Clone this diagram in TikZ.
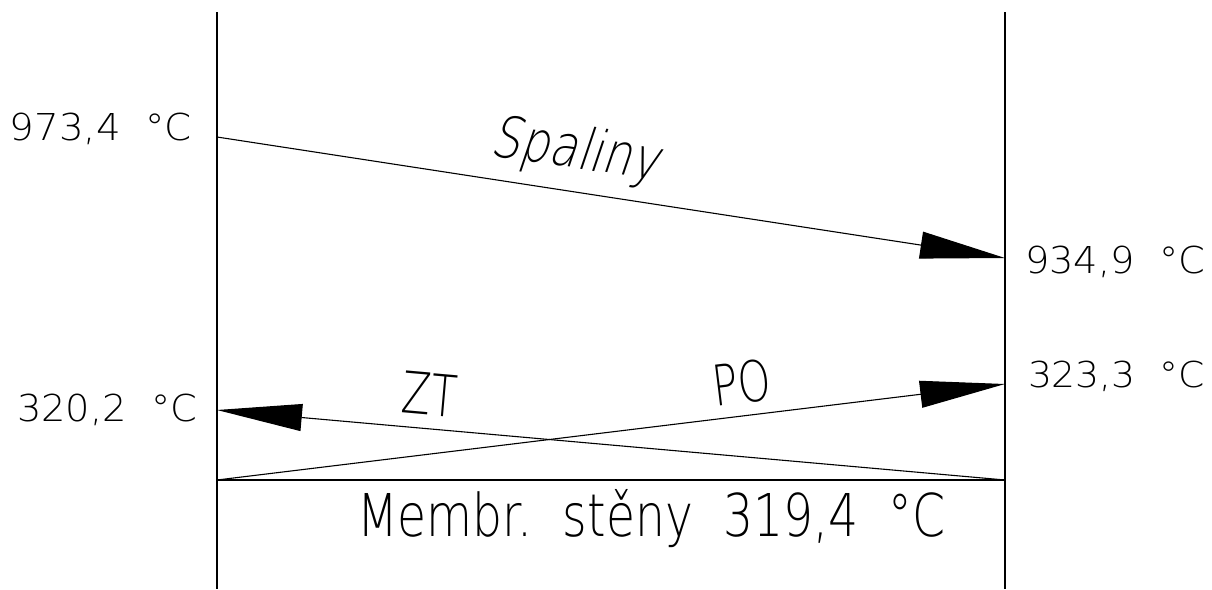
\documentclass[tikz,border=0pt]{standalone}
\usepackage{fontspec}
\usepackage{graphicx}
\setmainfont{DejaVu Sans ExtraLight}
\newfontfamily\cadit[FakeSlant=0.22]{DejaVu Sans ExtraLight}
\usetikzlibrary{arrows.meta}
\newcommand{\fitto}[3]{\resizebox{#1}{#2}{\vphantom{M}\smash{#3}}}
\tikzset{
  wall/.style={line width=1.8pt},
  flow/.style={line width=1.1pt, -{Triangle[length=85pt,width=27pt]}},
  lbl/.style={inner sep=0pt, outer sep=0pt},
}
\begin{document}
\begin{tikzpicture}[x=1pt,y=-1pt]
\useasboundingbox (0,0) rectangle (1212,589);
% coordinates
\coordinate (LT) at (217,12);
\coordinate (LB) at (217,589);
\coordinate (RT) at (1005,12);
\coordinate (RB) at (1005,589);
\coordinate (LW) at (217,480);
\coordinate (RW) at (1005,480);
\coordinate (SpIn) at (217,137);
\coordinate (SpOut) at (1005,258);
\coordinate (ZTout) at (217,410);
\coordinate (POout) at (1005,384);
% walls
\draw[wall] (LT) -- (LB);
\draw[wall] (RT) -- (RB);
\draw[wall] (LW) -- (RW);
% flows
\draw[flow] (SpIn) -- (SpOut);
\draw[flow] (RW) -- (ZTout);
\draw[flow] (LW) -- (POout);
% labels
\node[lbl, anchor=base west] (t973) at (10,140) {\fitto{182pt}{27pt}{973,4\ \ °C}};
\node[lbl, anchor=base west] (t934) at (1025,273) {\fitto{180pt}{27pt}{934,9\ \ °C}};
\node[lbl, anchor=base west] (t323) at (1028,387) {\fitto{177pt}{26pt}{323,3\ \ °C}};
\node[lbl, anchor=base west] (t320) at (17,421) {\fitto{180pt}{27pt}{320,2\ \ °C}};
\node[lbl, anchor=base west] (tmem) at (357,536) {\fitto{588pt}{43pt}{Membr.\ \ stěny\ \ 319,4\ \ °C}};
\node[lbl, rotate=-8.7] (tsp) at (576,147) {\fitto{168pt}{42pt}{\cadit Spaliny}};
\node[lbl, rotate=-5] (tzt) at (430,394) {\fitto{55pt}{42pt}{ZT}};
\node[lbl, rotate=7] (tpo) at (742,383) {\fitto{58pt}{41pt}{PO}};
\end{tikzpicture}
\end{document}
